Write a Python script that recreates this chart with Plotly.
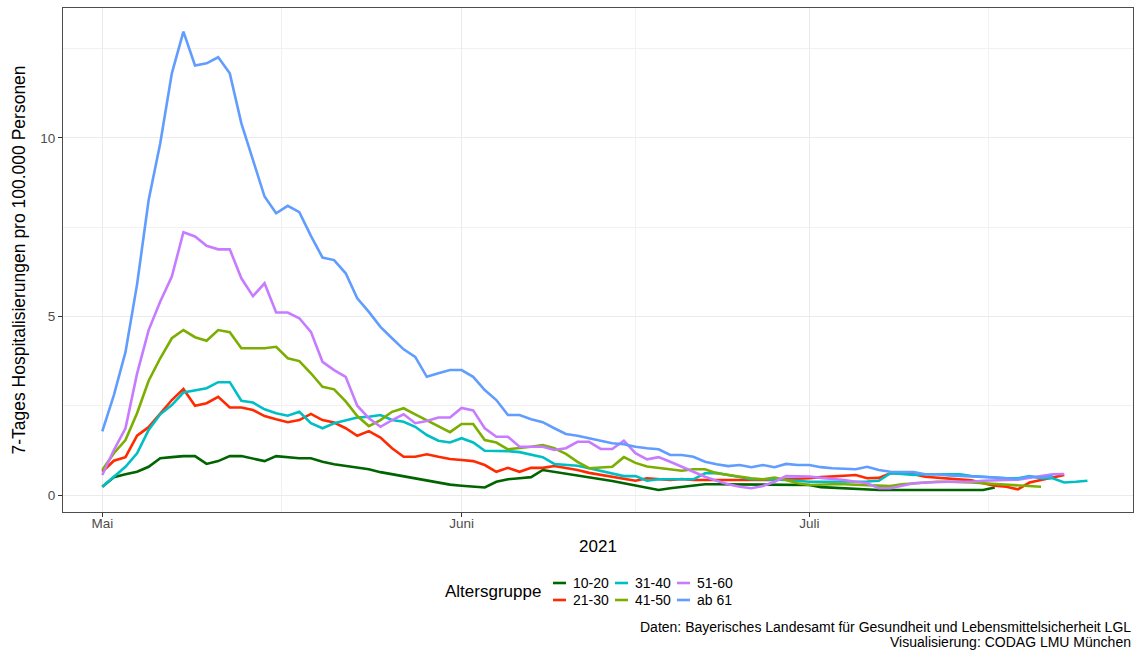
import pandas as pd
import plotly.graph_objects as go

# ---------------- data ----------------
start_date = "2021-05-01"
groups = ["10-20", "21-30", "31-40", "41-50", "51-60", "ab 61"]
colors = ["#006400", "#FF2A00", "#00BFC4", "#7CAE00", "#C77CFF", "#619CFF"]

vals_10_20 = [0.23, 0.50, 0.58, 0.65, 0.79, 1.03, 1.06, 1.09, 1.09, 0.87,
              0.95, 1.09, 1.09, 1.03, 0.95, 1.09, 1.06, 1.03, 1.03, 0.93,
              0.86, 0.81, 0.76, 0.72, 0.64, 0.58, 0.51, 0.45, 0.39, 0.33,
              0.29, 0.26, 0.24, 0.21, 0.37, 0.44, 0.47, 0.50, 0.70, 0.65,
              0.61, 0.56, 0.50, 0.44, 0.39, 0.33, 0.27, 0.20, 0.14, 0.19,
              0.23, 0.25, 0.30, 0.30, 0.30, 0.30, 0.30, 0.30, 0.30, 0.30,
              0.29, 0.28, 0.22, 0.20, 0.19, 0.16, 0.14, 0.14, 0.14, 0.14,
              0.14, 0.14, 0.14, 0.14, 0.14, 0.14, 0.14, 0.21]
vals_21_30 = [0.65, 0.96, 1.06, 1.66, 1.90, 2.29, 2.66, 2.97, 2.50, 2.57,
              2.75, 2.45, 2.45, 2.38, 2.21, 2.12, 2.04, 2.10, 2.27, 2.10,
              2.03, 1.87, 1.66, 1.79, 1.61, 1.31, 1.07, 1.07, 1.14, 1.07,
              1.01, 0.98, 0.95, 0.84, 0.65, 0.76, 0.65, 0.76, 0.76, 0.81,
              0.76, 0.70, 0.62, 0.56, 0.50, 0.45, 0.40, 0.47, 0.44, 0.42,
              0.45, 0.42, 0.42, 0.42, 0.42, 0.42, 0.40, 0.40, 0.42, 0.44,
              0.45, 0.47, 0.50, 0.51, 0.54, 0.56, 0.47, 0.48, 0.61, 0.61,
              0.58, 0.51, 0.49, 0.45, 0.43, 0.41, 0.33, 0.26, 0.23, 0.16,
              0.35, 0.42, 0.47, 0.56]
vals_31_40 = [0.23, 0.51, 0.79, 1.17, 1.82, 2.26, 2.52, 2.87, 2.92, 2.99,
              3.16, 3.16, 2.64, 2.59, 2.40, 2.29, 2.22, 2.33, 2.01, 1.87,
              2.01, 2.08, 2.17, 2.19, 2.24, 2.10, 2.05, 1.91, 1.68, 1.52,
              1.47, 1.59, 1.47, 1.24, 1.24, 1.23, 1.20, 1.14, 1.06, 0.87,
              0.84, 0.82, 0.75, 0.68, 0.61, 0.53, 0.53, 0.40, 0.44, 0.44,
              0.44, 0.44, 0.61, 0.62, 0.56, 0.49, 0.44, 0.44, 0.44, 0.42,
              0.40, 0.37, 0.37, 0.37, 0.37, 0.37, 0.38, 0.40, 0.61, 0.59,
              0.56, 0.58, 0.58, 0.58, 0.58, 0.53, 0.50, 0.49, 0.47, 0.47,
              0.53, 0.47, 0.47, 0.35, 0.37, 0.40]
vals_41_50 = [0.70, 1.17, 1.54, 2.29, 3.20, 3.83, 4.39, 4.62, 4.42, 4.32,
              4.62, 4.56, 4.11, 4.11, 4.11, 4.15, 3.83, 3.75, 3.41, 3.03,
              2.96, 2.62, 2.21, 1.93, 2.10, 2.33, 2.43, 2.26, 2.10, 1.93,
              1.76, 1.99, 1.99, 1.54, 1.47, 1.28, 1.31, 1.35, 1.40, 1.31,
              1.15, 0.93, 0.75, 0.76, 0.79, 1.06, 0.90, 0.80, 0.76, 0.73,
              0.68, 0.72, 0.72, 0.61, 0.56, 0.51, 0.47, 0.44, 0.49, 0.42,
              0.33, 0.28, 0.30, 0.30, 0.30, 0.29, 0.28, 0.25, 0.25, 0.30,
              0.33, 0.35, 0.37, 0.37, 0.37, 0.35, 0.33, 0.31, 0.28, 0.25,
              0.23, 0.23]
vals_51_60 = [0.56, 1.26, 1.87, 3.40, 4.62, 5.42, 6.12, 7.36, 7.24, 6.98,
              6.88, 6.88, 6.07, 5.57, 5.93, 5.11, 5.11, 4.95, 4.57, 3.73,
              3.50, 3.31, 2.50, 2.15, 1.91, 2.10, 2.26, 2.01, 2.07, 2.17,
              2.17, 2.44, 2.37, 1.87, 1.63, 1.63, 1.35, 1.35, 1.35, 1.26,
              1.31, 1.49, 1.49, 1.29, 1.29, 1.52, 1.17, 1.00, 1.06, 0.93,
              0.79, 0.65, 0.51, 0.40, 0.30, 0.23, 0.19, 0.25, 0.37, 0.53,
              0.52, 0.52, 0.48, 0.46, 0.42, 0.37, 0.33, 0.19, 0.19, 0.26,
              0.33, 0.35, 0.37, 0.37, 0.37, 0.37, 0.40, 0.40, 0.42, 0.43,
              0.49, 0.53, 0.58, 0.59]
vals_ab_61 = [1.78, 2.80, 4.00, 5.90, 8.26, 9.85, 11.81, 12.98, 12.03, 12.09,
              12.26, 11.81, 10.41, 9.38, 8.36, 7.89, 8.10, 7.92, 7.26, 6.65,
              6.58, 6.21, 5.51, 5.13, 4.71, 4.39, 4.08, 3.87, 3.31, 3.41,
              3.50, 3.50, 3.31, 2.94, 2.66, 2.24, 2.24, 2.12, 2.04, 1.87,
              1.71, 1.66, 1.59, 1.54, 1.45, 1.42, 1.35, 1.31, 1.28, 1.12,
              1.12, 1.07, 0.93, 0.86, 0.81, 0.84, 0.78, 0.84, 0.78, 0.87,
              0.84, 0.84, 0.78, 0.75, 0.73, 0.72, 0.79, 0.70, 0.65, 0.65,
              0.64, 0.58, 0.58, 0.55, 0.54, 0.52, 0.50, 0.49, 0.47, 0.45,
              0.52, 0.49, 0.53]

series_values = [vals_10_20, vals_21_30, vals_31_40, vals_41_50, vals_51_60, vals_ab_61]

x_tick_dates = ["2021-05-01", "2021-06-01", "2021-07-01"]
x_tick_labels = ["Mai", "Juni", "Juli"]
y_tick_values = [0, 5, 10]
y_tick_labels = ["0", "5", "10"]

x_title = "2021"
y_title = "7-Tages Hospitalisierungen pro 100.000 Personen"
legend_title = "Altersgruppe"
caption_lines = ["Daten: Bayerisches Landesamt für Gesundheit und Lebensmittelsicherheit LGL",
                 "Visualisierung: CODAG LMU München"]

# ---------------- layout constants ----------------
W, H = 1134, 650
PL, PR, PT, PB = 63, 1133, 8, 512   # panel edges in px
FONT = "Liberation Sans, Arial, Helvetica, sans-serif"
SMALL = 14
BIG = 17
LINE_W = 2.6


def px_x(px):
    return (px - PL) / (PR - PL)


def px_y(py):
    return (PB - py) / (PB - PT)


fig = go.Figure()
for g, c, v in zip(groups, colors, series_values):
    dates = pd.date_range(start_date, periods=len(v), freq="D")
    fig.add_trace(go.Scatter(x=dates, y=v, mode="lines", name=g,
                             line=dict(color=c, width=LINE_W),
                             showlegend=False))

t0 = pd.Timestamp(start_date)
x_range = [t0 + pd.Timedelta(days=-3.39), t0 + pd.Timedelta(days=88.93)]
x_minor = [t0 + pd.Timedelta(days=15.5), pd.Timestamp("2021-06-16"),
           pd.Timestamp("2021-07-01") + pd.Timedelta(days=15.5)]

grid_major = "#EBEBEB"
border = "#4D4D4D"

fig.update_xaxes(
    range=x_range, tickmode="array", tickvals=x_tick_dates, ticktext=x_tick_labels,
    showgrid=True, gridcolor=grid_major, gridwidth=1.1,
    minor=dict(tickmode="array", tickvals=x_minor, showgrid=True,
               gridcolor="#F1F1F1", gridwidth=1, ticklen=0),
    showline=True, mirror=True, linecolor=border, linewidth=1,
    ticks="outside", ticklen=4, tickwidth=1, tickcolor="#333333",
    ticklabelstandoff=-5,
    tickfont=dict(family=FONT, size=13.5, color="#4D4D4D"),
    title=dict(text=x_title, font=dict(family=FONT, size=BIG, color="black"), standoff=9),
    zeroline=False,
)
fig.update_yaxes(
    range=[-0.476, 13.64], tickmode="array", tickvals=y_tick_values, ticktext=y_tick_labels,
    showgrid=True, gridcolor=grid_major, gridwidth=1.1,
    minor=dict(tickmode="array", tickvals=[2.5, 7.5, 12.5], showgrid=True,
               gridcolor="#F1F1F1", gridwidth=1, ticklen=0),
    showline=True, mirror=True, linecolor=border, linewidth=1,
    ticks="outside", ticklen=4, tickwidth=1, tickcolor="#333333",
    tickfont=dict(family=FONT, size=13.5, color="#4D4D4D"),
    title=dict(text=y_title, font=dict(family=FONT, size=17.5, color="black"), standoff=10),
    zeroline=False,
)

shapes = []
annotations = []

# legend title
annotations.append(dict(text=legend_title, x=px_x(543), y=px_y(592), xref="paper", yref="paper",
                        xanchor="right", yanchor="middle", showarrow=False,
                        font=dict(family=FONT, size=BIG, color="black")))
# legend keys (column-major, 2 rows)
key_x0 = [553, 615, 677]
key_len = 13
row_y = [583, 600]
for i, (g, c) in enumerate(zip(groups, colors)):
    col, row = divmod(i, 2)
    x0 = key_x0[col]
    y = row_y[row]
    shapes.append(dict(type="line", xref="paper", yref="paper",
                       x0=px_x(x0), x1=px_x(x0 + key_len), y0=px_y(y), y1=px_y(y),
                       line=dict(color=c, width=LINE_W)))
    annotations.append(dict(text=g, x=px_x(x0 + key_len + 5), y=px_y(y), xref="paper", yref="paper",
                            xanchor="left", yanchor="middle", showarrow=False,
                            font=dict(family=FONT, size=SMALL, color="black")))

# caption
for line, yy in zip(caption_lines, [627, 642]):
    annotations.append(dict(text=line, x=px_x(1133), y=px_y(yy), xref="paper", yref="paper",
                            xanchor="right", yanchor="middle", showarrow=False,
                            font=dict(family=FONT, size=SMALL, color="black")))

fig.update_layout(
    width=W, height=H,
    margin=dict(l=PL, r=W - PR, t=PT, b=H - PB, autoexpand=False),
    paper_bgcolor="white", plot_bgcolor="white",
    showlegend=False,
    shapes=shapes, annotations=annotations,
    font=dict(family=FONT),
)

fig.write_html("out.html",
               config={"displayModeBar": False},
               post_script="document.body.style.margin='0px';document.body.style.overflow='hidden';")
